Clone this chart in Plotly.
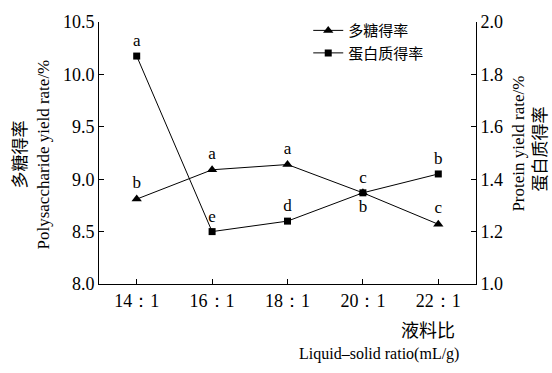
import plotly.graph_objects as go

# Liquid-solid ratio categories
ratios = ["14：1", "16：1", "18：1", "20：1", "22：1"]

# Polysaccharide yield (%) and significance letters
poly_yield = [8.81, 9.09, 9.14, 8.87, 8.57]
poly_letters = ["b", "a", "a", "b", "c"]
poly_letter_pos = ["top center", "top center", "top center", "bottom center", "top center"]

# Protein yield (%) and significance letters
prot_yield = [1.87, 1.20, 1.24, 1.348, 1.42]
prot_letters = ["a", "e", "d", "c", "b"]

serif = "'Liberation Serif', 'Times New Roman', Times, serif"
cjk = "'Noto Sans CJK SC', sans-serif"

fig = go.Figure()

fig.add_trace(go.Scatter(
    x=ratios, y=poly_yield, name="多糖得率", mode="lines+markers+text",
    line=dict(color="black", width=1),
    marker=dict(symbol="triangle-up", size=9, color="black"),
    text=poly_letters, textposition=poly_letter_pos,
    textfont=dict(family=serif, size=17, color="black"),
    yaxis="y",
))
fig.add_trace(go.Scatter(
    x=ratios, y=prot_yield, name="蛋白质得率", mode="lines+markers+text",
    line=dict(color="black", width=1),
    marker=dict(symbol="square", size=7, color="black"),
    text=prot_letters, textposition="top center",
    textfont=dict(family=serif, size=17, color="black"),
    yaxis="y2",
))

axis_common = dict(
    showline=True, linecolor="black", linewidth=1,
    ticks="inside", ticklen=5, tickcolor="black",
    showgrid=False, zeroline=False,
    tickfont=dict(family=serif, size=18, color="black"),
)

fig.update_layout(
    width=552, height=373,
    margin=dict(l=99, r=76, t=19, b=89),
    paper_bgcolor="white", plot_bgcolor="white",
    xaxis=dict(range=[-0.5, 4.5], **axis_common),
    yaxis=dict(range=[8.0, 10.5], dtick=0.5, tickformat=".1f", **axis_common),
    yaxis2=dict(range=[1.0, 2.0], dtick=0.2, tickformat=".1f",
                overlaying="y", side="right", **axis_common),
    legend=dict(x=0.555, y=1.03, xanchor="left", yanchor="top",
                bgcolor="rgba(0,0,0,0)", tracegroupgap=0,
                font=dict(family=cjk, size=15, color="black"),
                itemwidth=30),
    showlegend=True,
)

# Axis titles placed in pixel coordinates relative to the plot area
annots = [
    dict(text="多糖得率", x=18, y=153, textangle=-90, font=dict(family=cjk, size=17)),
    dict(text="Polysaccharide yield rate/%", x=43, y=153, textangle=-90,
         font=dict(family=serif, size=17)),
    dict(text="Protein yield rate/%", x=519, y=142, textangle=-90,
         font=dict(family=serif, size=17)),
    dict(text="蛋白质得率", x=539, y=148, textangle=-90, font=dict(family=cjk, size=17)),
    dict(text="液料比", x=457, y=330, xanchor="right", font=dict(family=cjk, size=18)),
    dict(text="Liquid–solid ratio(mL/g)", x=461, y=355, xanchor="right",
         font=dict(family=serif, size=16)),
]
pw, ph = 552 - 99 - 76, 373 - 19 - 89
for a in annots:
    fig.add_annotation(
        text=a["text"], x=(a["x"] - 99) / pw, y=(284 - a["y"]) / ph,
        xref="paper", yref="paper", showarrow=False,
        xanchor=a.get("xanchor", "center"), yanchor="middle",
        textangle=a.get("textangle", 0),
        font=dict(color="black", **a["font"]),
    )

fig.write_html("out.html")
